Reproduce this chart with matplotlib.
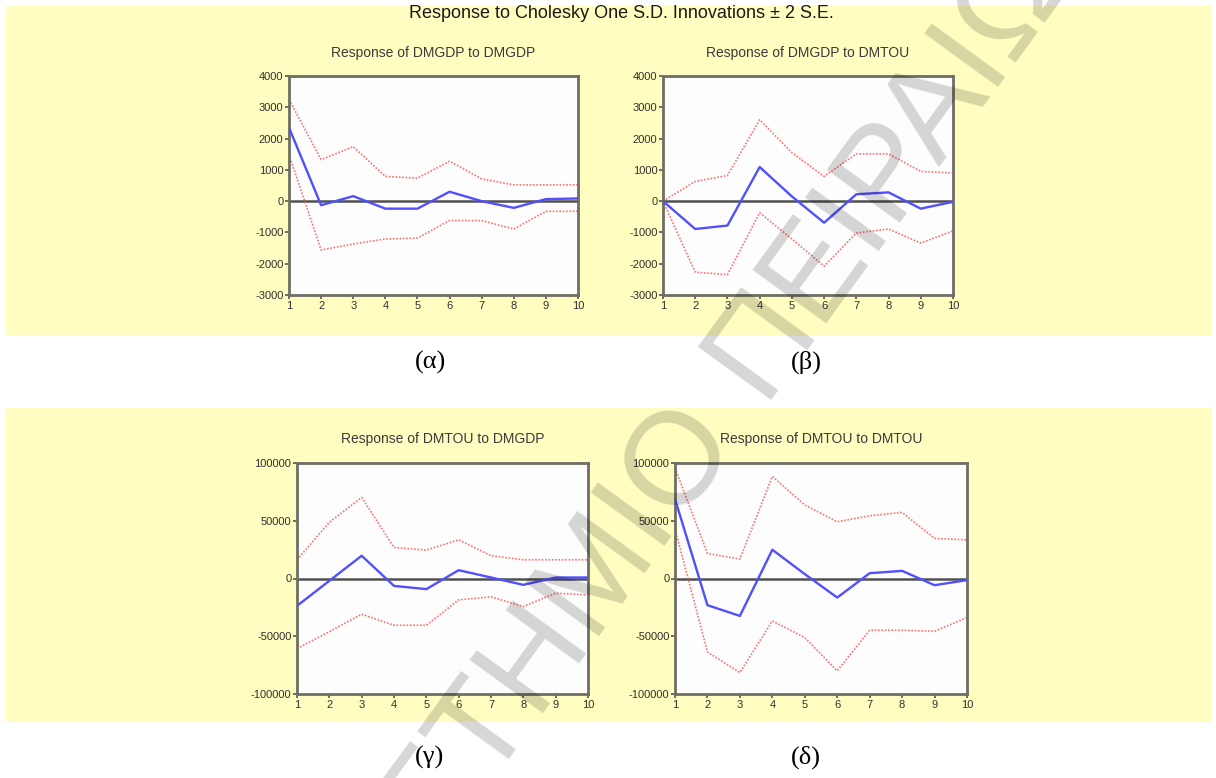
import numpy as np
import matplotlib
matplotlib.use("Agg")
import matplotlib.pyplot as plt
from matplotlib.patches import Rectangle

plt.rcParams["font.family"] = ["Liberation Sans", "DejaVu Sans"]

steps = np.arange(1, 11)

# (a) response of DMGDP to DMGDP
gdp_gdp = [2350, -130, 160, -240, -240, 300, 0, -215, 65, 85]
gdp_gdp_hi = [3250, 1330, 1740, 790, 735, 1275, 710, 520, 520, 520]
gdp_gdp_lo = [1490, -1560, -1370, -1210, -1180, -620, -620, -890, -325, -325]

# (b) response of DMGDP to DMTOU
gdp_tou = [0, -890, -780, 1090, 150, -690, 220, 280, -240, -20]
gdp_tou_hi = [0, 630, 820, 2600, 1550, 790, 1510, 1510, 950, 900]
gdp_tou_lo = [0, -2270, -2350, -370, -1210, -2080, -1020, -890, -1340, -950]

# (c) response of DMTOU to DMGDP
tou_gdp = [-23700, -2000, 19700, -6400, -9200, 7200, 870, -5500, 870, 870]
tou_gdp_hi = [16200, 48600, 70200, 26900, 24600, 33500, 19700, 16200, 16200, 16200]
tou_gdp_lo = [-60700, -46000, -30900, -40500, -40500, -18500, -15900, -24300, -12700, -14200]

# (d) response of DMTOU to DMTOU
tou_tou = [68800, -23100, -32400, 24900, 3800, -16500, 4600, 6600, -5800, -1400]
tou_tou_hi = [95700, 21700, 16800, 88400, 63600, 49100, 54300, 57200, 34700, 33500]
tou_tou_lo = [42800, -63600, -81500, -36700, -51200, -80000, -44800, -44800, -45700, -33800]

gdp_ticks = [4000, 3000, 2000, 1000, 0, -1000, -2000, -3000]
tou_ticks = [100000, 50000, 0, -50000, -100000]

W, H = 1216, 778
YELLOW = "#FFFDC0"


def fx(px):
    return px / W


def fy(py):
    return 1 - py / H


fig = plt.figure(figsize=(W / 100, H / 100), dpi=100)
fig.patch.set_facecolor("white")

# yellow EViews panels
fig.patches.append(Rectangle((fx(6), fy(336)), fx(1212) - fx(6), (336 - 6) / H,
                             transform=fig.transFigure, facecolor=YELLOW,
                             edgecolor="none", zorder=-10))
fig.patches.append(Rectangle((fx(6), fy(722)), fx(1212) - fx(6), (722 - 408) / H,
                             transform=fig.transFigure, facecolor=YELLOW,
                             edgecolor="none", zorder=-10))

fig.text(fx(621), fy(14), "Response to Cholesky One S.D. Innovations \u00b1 2 S.E.",
         ha="center", va="center", fontsize=13, color="#1a1a1a")


def panel(rect, mid, hi, lo, title, ticks, pad):
    ax = fig.add_axes(rect)
    ax.set_facecolor("#FDFDFD")
    ax.axhline(0, color="#505050", lw=1.8, zorder=1)
    ax.plot(steps, hi, color="#FF7070", lw=1.2, ls=(0, (1, 1)), zorder=2)
    ax.plot(steps, lo, color="#FF7070", lw=1.2, ls=(0, (1, 1)), zorder=2)
    ax.plot(steps, mid, color="#5050FF", lw=1.7, zorder=3)
    ax.set_xlim(1, 10)
    ax.set_ylim(min(ticks), max(ticks))
    ax.set_xticks(steps)
    ax.set_yticks(ticks)
    ax.set_yticklabels([str(t) for t in ticks])
    ax.tick_params(direction="out", length=3, width=1.2, color="#555550",
                   labelsize=8, labelcolor="#303030", pad=1)
    for s in ax.spines.values():
        s.set_color("#6e6e64")
        s.set_linewidth(2)
    ax.set_title(title, fontsize=10, color="#3a3a3a", pad=pad)
    return ax


panel([fx(289), fy(295), fx(578) - fx(289), (295 - 76) / H],
      gdp_gdp, gdp_gdp_hi, gdp_gdp_lo, "Response of DMGDP to DMGDP", gdp_ticks, 13.5)
panel([fx(663), fy(295), fx(953) - fx(663), (295 - 76) / H],
      gdp_tou, gdp_tou_hi, gdp_tou_lo, "Response of DMGDP to DMTOU", gdp_ticks, 13.5)
panel([fx(297), fy(694), fx(588) - fx(297), (694 - 463) / H],
      tou_gdp, tou_gdp_hi, tou_gdp_lo, "Response of DMTOU to DMGDP", tou_ticks, 14.5)
panel([fx(675), fy(694), fx(967) - fx(675), (694 - 463) / H],
      tou_tou, tou_tou_hi, tou_tou_lo, "Response of DMTOU to DMTOU", tou_ticks, 14.5)

# captions
for label, x, y in [("(\u03b1)", 430, 362), ("(\u03b2)", 806, 362),
                    ("(\u03b3)", 430, 757), ("(\u03b4)", 806, 757)]:
    fig.text(fx(x), fy(y), label, ha="center", va="center", fontsize=19,
             family=["Liberation Serif", "DejaVu Serif"], color="black")

# diagonal watermark
fig.text(fx(708), fy(413), "\u03a0\u0391\u039d\u0395\u03a0\u0399\u03a3\u03a4\u0397\u039c\u0399\u039f",
         ha="right", va="center", rotation=54, rotation_mode="anchor",
         fontsize=95, color="black", alpha=0.16, zorder=10)
fig.text(fx(732), fy(379), "\u03a0\u0395\u0399\u03a1\u0391\u0399\u03a9\u03a3",
         ha="left", va="center", rotation=54, rotation_mode="anchor",
         fontsize=95, color="black", alpha=0.16, zorder=10)

fig.savefig("out.png", dpi=100)
